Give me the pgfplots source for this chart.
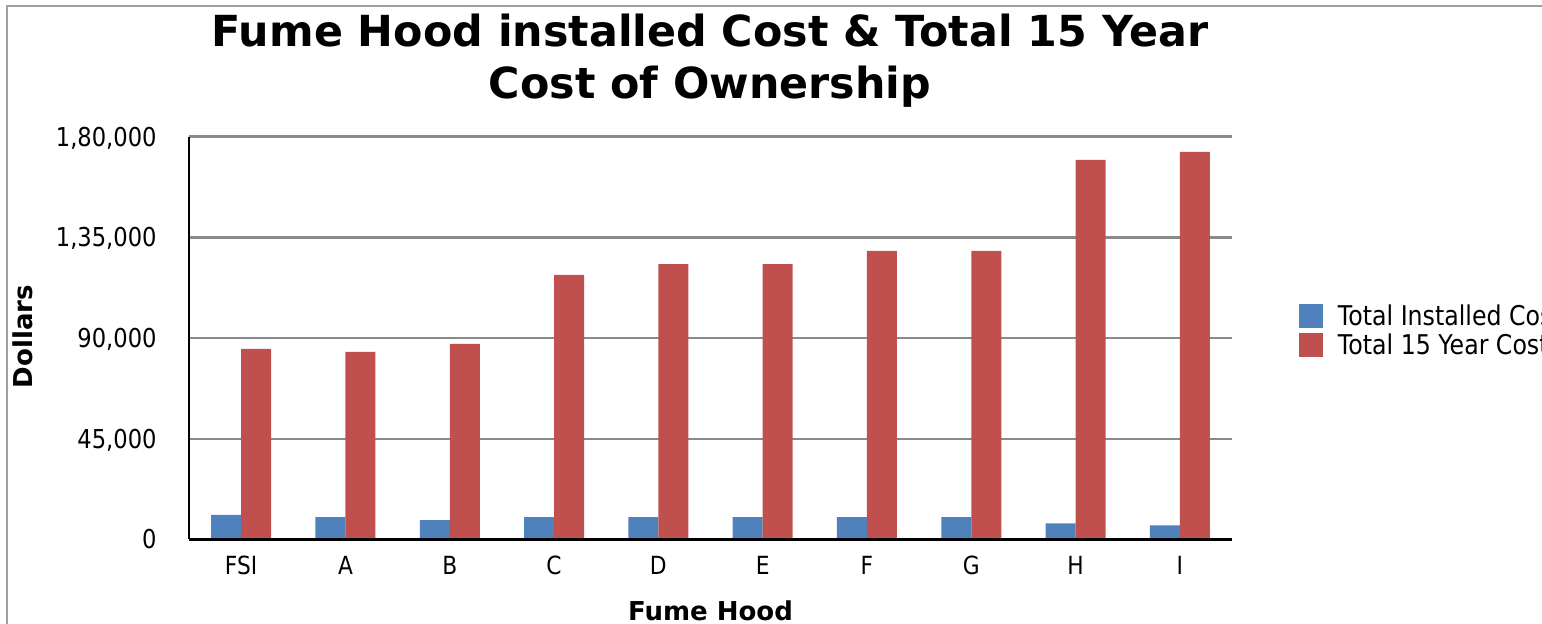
\documentclass[border=0pt]{standalone}
\usepackage{fontspec}
\setmainfont{DejaVu Sans}[FakeStretch=0.87]
\newfontfamily\headfont{DejaVu Sans Bold}
\usepackage{pgfplots}
\usepackage{pgfplotstable}
\pgfplotsset{compat=1.18}

\definecolor{instblue}{HTML}{4F81BD}
\definecolor{ownred}{HTML}{C0504D}
\definecolor{gridgray}{HTML}{8A8A8A}
\definecolor{framegray}{HTML}{A0A0A0}

% installed cost and 15-year cost of ownership per fume hood (dollars)
\pgfplotstableread{
idx installed total
0   10950     85150
1   10000     83800
2   8700      87400
3   10000     118200
4   10000     123100
5   10000     123100
6   10000     129000
7   10000     129000
8   7200      169600
9   6300      173200
}\costdata

\begin{document}
\begin{tikzpicture}
\begin{axis}[
  at={(94.5pt,42.25pt)}, anchor=south west,
  scale only axis, width=521.5pt, height=201.4pt,
  xmin=-0.5, xmax=9.5, ymin=0, ymax=180000,
  ybar=0pt, bar width=15pt,
  set layers, axis on top,
  axis x line*=bottom, axis y line*=left,
  axis line style={black, line width=1.3pt, -},
  ymajorgrids,
  major grid style={gridgray, line width=1.2pt, /pgfplots/on layer=axis background},
  major tick length=0pt,
  xtick={0,...,9},
  xticklabels={FSI,A,B,C,D,E,F,G,H,I},
  ytick={0,45000,90000,135000,180000},
  yticklabels={0,{45,000},{90,000},{1,35,000},{1,80,000}},
  scaled y ticks=false,
  yticklabel style={font=\fontsize{13}{15}\selectfont, anchor=base east,
    inner sep=0pt, xshift=-16pt, yshift=-4.7pt},
  xticklabel style={font=\fontsize{12.5}{15}\selectfont, anchor=base,
    inner sep=0pt, yshift=-17.75pt},
  legend style={at={(axis description cs:1.0642,0.5847)}, anchor=north west,
    draw=none, fill=none, inner sep=0pt, outer sep=0pt, row sep=2.5pt,
    font=\fontsize{13.6}{15}\selectfont,
    nodes={inner sep=0pt, text height=9.8pt, text depth=0pt},
    /tikz/every odd column/.append style={column sep=7.5pt}},
  legend cell align=left,
  legend image code/.code={\fill[#1] (0pt,-6pt) rectangle (12pt,6pt);},
]
\addplot[fill=instblue, draw=none] table[x=idx, y=installed]{\costdata};
\addplot[fill=ownred, draw=none] table[x=idx, y=total]{\costdata};
\legend{Total Installed Cost, Total 15 Year Cost}
\end{axis}

% title and axis labels
\node[font={\headfont\fontsize{21.4}{26}\selectfont}, anchor=base]
  at (355pt,288.65pt) {Fume Hood installed Cost \& Total 15 Year};
\node[font={\headfont\fontsize{21.4}{26}\selectfont}, anchor=base]
  at (355pt,262.85pt) {Cost of Ownership};
\node[font={\headfont\fontsize{13}{15}\selectfont}, rotate=90, anchor=center]
  at (11.25pt,143.75pt) {Dollars};
\node[font={\headfont\fontsize{13}{15}\selectfont}, anchor=base]
  at (355.25pt,1.75pt) {Fume Hood};

% chart frame, cut by the page edge on the right and at the bottom
\draw[framegray, line width=1pt] (3.5pt,-30pt) |- (850pt,309pt);

\pgfresetboundingbox
\useasboundingbox (0pt,0pt) rectangle (771pt,312pt);
\end{tikzpicture}
\end{document}
